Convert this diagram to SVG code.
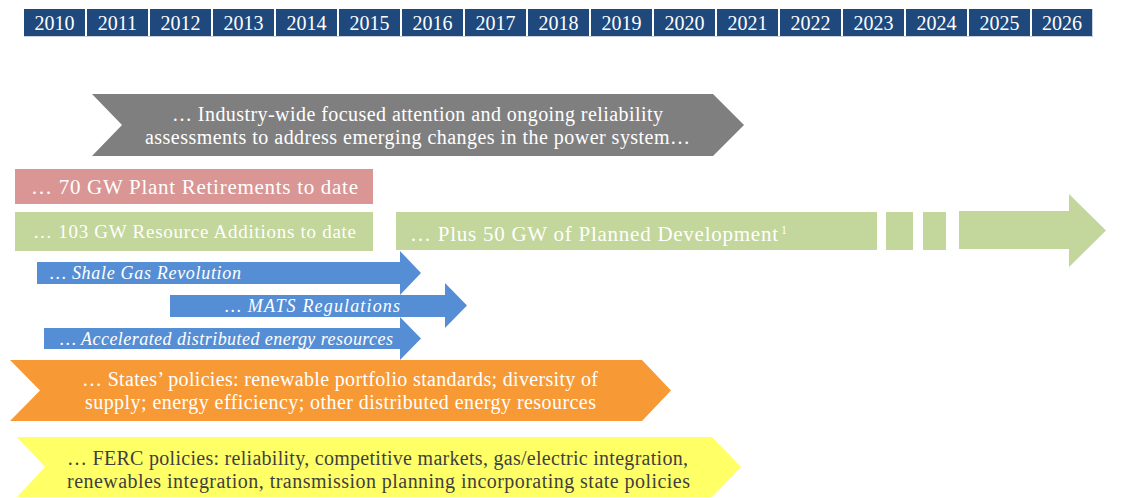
<svg xmlns="http://www.w3.org/2000/svg" width="1143" height="498" viewBox="0 0 1143 498">
<style>
.yr{fill:#1F497D}
.yt{font-family:"Liberation Serif",serif;font-size:20px;fill:#fff;text-anchor:middle}
.t{font-family:"Liberation Serif",serif;fill:#fff}
.c{text-anchor:middle}
.i{font-style:italic}
.blue{fill:#558ED5}
.dk{fill:#3F3F3F}
</style>
<rect width="1143" height="498" fill="#fff"/>
<g id="years">
<line x1="24" y1="36.5" x2="1093" y2="36.5" stroke="#C8D2DE" stroke-width="1"/>
<line x1="1092.5" y1="9" x2="1092.5" y2="37" stroke="#C8D2DE" stroke-width="1"/>
<rect class="yr" x="24" y="9" width="61" height="27"/><text class="yt" x="54.5" y="29.5">2010</text>
<rect class="yr" x="87" y="9" width="61" height="27"/><text class="yt" x="117.5" y="29.5">2011</text>
<rect class="yr" x="150" y="9" width="61" height="27"/><text class="yt" x="180.5" y="29.5">2012</text>
<rect class="yr" x="213" y="9" width="61" height="27"/><text class="yt" x="243.5" y="29.5">2013</text>
<rect class="yr" x="276" y="9" width="61" height="27"/><text class="yt" x="306.5" y="29.5">2014</text>
<rect class="yr" x="339" y="9" width="61" height="27"/><text class="yt" x="369.5" y="29.5">2015</text>
<rect class="yr" x="402" y="9" width="61" height="27"/><text class="yt" x="432.5" y="29.5">2016</text>
<rect class="yr" x="465" y="9" width="61" height="27"/><text class="yt" x="495.5" y="29.5">2017</text>
<rect class="yr" x="528" y="9" width="61" height="27"/><text class="yt" x="558.5" y="29.5">2018</text>
<rect class="yr" x="591" y="9" width="61" height="27"/><text class="yt" x="621.5" y="29.5">2019</text>
<rect class="yr" x="654" y="9" width="61" height="27"/><text class="yt" x="684.5" y="29.5">2020</text>
<rect class="yr" x="717" y="9" width="61" height="27"/><text class="yt" x="747.5" y="29.5">2021</text>
<rect class="yr" x="780" y="9" width="61" height="27"/><text class="yt" x="810.5" y="29.5">2022</text>
<rect class="yr" x="843" y="9" width="61" height="27"/><text class="yt" x="873.5" y="29.5">2023</text>
<rect class="yr" x="906" y="9" width="61" height="27"/><text class="yt" x="936.5" y="29.5">2024</text>
<rect class="yr" x="969" y="9" width="61" height="27"/><text class="yt" x="999.5" y="29.5">2025</text>
<rect class="yr" x="1032" y="9" width="60" height="27"/><text class="yt" x="1062" y="29.5">2026</text>
</g>
<g id="industry">
<polygon points="92,94 713,94 744,125 713,156 92,156 122,125" fill="#7F7F7F"/>
<text class="t c" font-size="20" x="417.5" y="121" textLength="491">… Industry-wide focused attention and ongoing reliability</text>
<text class="t c" font-size="20" x="417.5" y="144" textLength="545">assessments to address emerging changes in the power system…</text>
</g>
<g id="retirements">
<rect x="15" y="169" width="358" height="35" fill="#D99694"/>
<text class="t" font-size="21" x="31" y="194" textLength="327">… 70 GW Plant Retirements to date</text>
</g>
<g id="additions">
<rect x="15" y="212" width="358" height="39" fill="#C3D69B"/>
<text class="t" font-size="19" x="33" y="238" textLength="323">… 103 GW Resource Additions to date</text>
</g>
<g id="planned">
<rect x="396" y="212" width="481" height="38" fill="#C3D69B"/>
<rect x="886" y="212" width="27" height="38" fill="#C3D69B"/>
<rect x="923" y="212" width="23" height="38" fill="#C3D69B"/>
<polygon points="959,211 1069,211 1069,194 1106,230.5 1069,267 1069,249 959,249" fill="#C3D69B"/>
<text class="t" font-size="21" x="410" y="241" textLength="368">… Plus 50 GW of Planned Development</text>
<text class="t" font-size="12" x="781" y="234">1</text>
</g>
<g id="shale">
<polygon class="blue" points="37,262 400,262 400,251 421,273 400,295 400,284 37,284"/>
<text class="t i" font-size="18" x="50" y="279" textLength="191">… Shale Gas Revolution</text>
</g>
<g id="mats">
<polygon class="blue" points="170,295 445,295 445,283 467,305.5 445,328 445,317 170,317"/>
<text class="t i" font-size="18" x="225" y="312" textLength="175">… MATS Regulations</text>
</g>
<g id="der">
<polygon class="blue" points="44,328 400,328 400,317 421,338.5 400,360 400,349 44,349"/>
<text class="t i" font-size="18" x="60" y="345" textLength="333">… Accelerated distributed energy resources</text>
</g>
<g id="states">
<polygon points="10,360 642,360 671,390.5 642,421 10,421 40,390.5" fill="#F79A35"/>
<text class="t c" font-size="20" x="340" y="386" textLength="516">… States’ policies: renewable portfolio standards; diversity of</text>
<text class="t c" font-size="20" x="340.5" y="409" textLength="511">supply; energy efficiency; other distributed energy resources</text>
</g>
<g id="ferc">
<polygon points="17,437 712,437 741,467 712,497 17,497 45,467" fill="#FFFF66"/>
<text class="t c dk" font-size="20" x="377.5" y="465" textLength="621">… FERC policies: reliability, competitive markets, gas/electric integration,</text>
<text class="t c dk" font-size="20" x="378.5" y="488" textLength="623">renewables integration, transmission planning incorporating state policies</text>
</g>
<g id="connectors"/>
</svg>
